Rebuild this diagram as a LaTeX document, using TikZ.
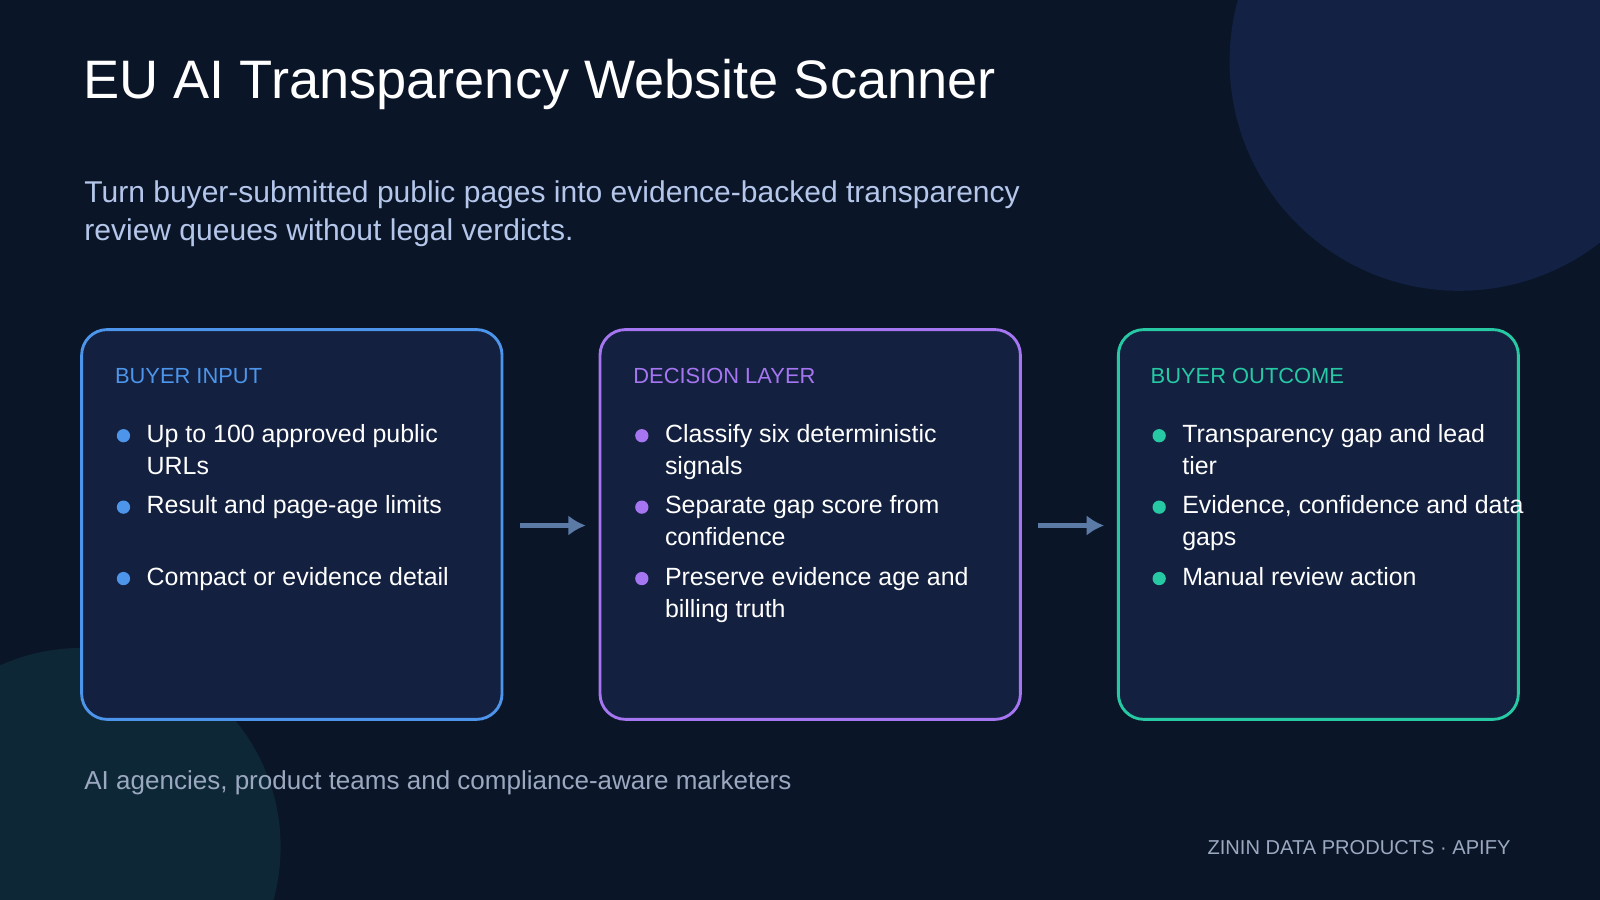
\documentclass[tikz,border=0pt]{standalone}
\usepackage{fontspec}
\setmainfont{Liberation Sans}
\usetikzlibrary{arrows.meta}
\begin{document}
\begin{tikzpicture}[x=0.01cm,y=-0.01cm]
\definecolor{bg}{HTML}{0B1528}
\definecolor{card}{HTML}{13203F}
\definecolor{cblue}{HTML}{4C95EA}
\definecolor{cpurp}{HTML}{A676F2}
\definecolor{cteal}{HTML}{26C9A4}
\definecolor{arr}{HTML}{5B7BA6}
\definecolor{subt}{HTML}{B4C6EA}
\definecolor{foot}{HTML}{9AA8C0}
\definecolor{circA}{HTML}{132244}
\definecolor{circB}{HTML}{0E2736}
\tikzset{
 card/.style={draw=#1,line width=0.8pt,fill=card,rounded corners=0.25cm},
 head/.style={anchor=base west,inner sep=0pt,font=\fontsize{6.1}{7}\selectfont,text=#1},
 item/.style={anchor=north west,align=left,text=white,font=\fontsize{6.95}{9}\selectfont,inner sep=0pt},
 dot/.style={circle,fill=#1,minimum size=0.13cm,inner sep=0pt},
 flow/.style={draw=arr,line width=1.6pt,-{Latex[length=0.17cm,width=0.2cm]}}
}
\fill[bg] (0,0) rectangle (1568,882);
\useasboundingbox (0,0) rectangle (1568,882);
\begin{scope}
\clip (0,0) rectangle (1568,882);
\fill[circA] (1430,60) circle (225);
\fill[circB] (80,830) circle (195);
\end{scope}
\node[anchor=base west,inner sep=0pt,text=white,font=\fontsize{15.1}{18}\selectfont] (title) at (81,97) {EU AI Transparency Website Scanner};
\node[anchor=north west,align=left,text=subt,font=\fontsize{8.37}{10.6}\selectfont,inner sep=0pt] (sub) at (82,176) {Turn buyer-submitted public pages into evidence-backed transparency\\review queues without legal verdicts.};
\draw[card=cblue] (80,323) rectangle (492,705);
\draw[card=cpurp] (588,323) rectangle (1000,705);
\draw[card=cteal] (1096,323) rectangle (1488,705);
\coordinate (a1s) at (510,515); \coordinate (a1e) at (574,515);
\coordinate (a2s) at (1017,515); \coordinate (a2e) at (1082,515);
\draw[flow] (a1s) -- (a1e);
\draw[flow] (a2s) -- (a2e);
\node[head=cblue] (h1) at (112,376) {BUYER INPUT};
\node[head=cpurp] (h2) at (620,376) {DECISION LAYER};
\node[head=cteal] (h3) at (1127,376) {BUYER OUTCOME};
\foreach \y/\t in {427/{Up to 100 approved public\\URLs},497/{Result and page-age limits},567/{Compact or evidence detail}}{
 \node[dot=cblue] at (121,\y) {};
 \node[item] at (143,\y-12) {\t};
}
\foreach \y/\t in {427/{Classify six deterministic\\signals},497/{Separate gap score from\\confidence},567/{Preserve evidence age and\\billing truth}}{
 \node[dot=cpurp] at (629,\y) {};
 \node[item] at (651,\y-12) {\t};
}
\foreach \y/\t in {427/{Transparency gap and lead\\tier},497/{Evidence, confidence and data\\gaps},567/{Manual review action}}{
 \node[dot=cteal] at (1136,\y) {};
 \node[item] at (1158,\y-12) {\t};
}
\node[anchor=base west,inner sep=0pt,text=foot,font=\fontsize{7.25}{9}\selectfont] (aud) at (82,774) {AI agencies, product teams and compliance-aware marketers};
\node[anchor=base east,inner sep=0pt,text=foot,font=\fontsize{5.6}{7}\selectfont] (brand) at (1481,837) {ZININ DATA PRODUCTS · APIFY};
\end{tikzpicture}
\end{document}
